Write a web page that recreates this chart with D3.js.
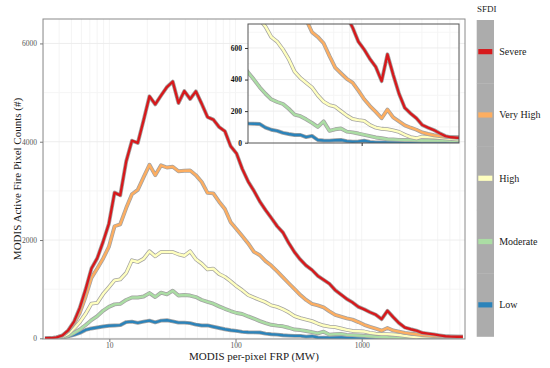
<!DOCTYPE html>
<html>
<head>
<meta charset="utf-8">
<script src="https://cdn.jsdelivr.net/npm/d3@7"></script>
<style>
  body { margin: 0; background: #fff; }
  svg { display: block; font-family: "Liberation Serif", "Times New Roman", serif; }
</style>
</head>
<body>
<div id="chart"></div>
<script>
// FRP bin centres (MW) and pixel counts per fire danger class
const frpBins = [3.09,3.44,3.82,4.25,4.72,5.25,5.83,6.49,7.21,8.02,8.91,9.91,11.0,12.2,13.6,15.1,16.8,18.7,20.8,23.1,25.7,28.6,31.8,35.3,39.3,43.7,48.5,54.0,60.0,66.7,74.1,82.4,91.6,102,113,126,140,156,173,192,214,238,264,294,327,363,404,449,499,555,617,685,762,847,942,1047,1164,1294,1439,1600,1778,1977,2198,2443,2716,3020,3357,3733,4150,4613,5129,5702,6339];

const severe = [0,5,20,60,160,340,620,1000,1420,1630,1960,2330,2965,2910,3600,4020,3975,4440,4924,4761,4940,5113,5223,4787,5031,4869,5025,4770,4502,4450,4299,4212,3906,3758,3450,3190,3000,2780,2610,2450,2280,2150,1940,1750,1600,1480,1390,1270,1190,1110,980,890,800,730,640,590,530,480,390,560,430,310,220,185,155,112,95,80,60,42,34,31,33];
const veryHigh = [0,5,18,55,150,300,520,850,1230,1420,1620,1860,2280,2320,2650,2930,3020,3280,3530,3320,3520,3475,3490,3400,3410,3415,3320,3180,2960,2950,2780,2630,2360,2220,2080,1930,1760,1690,1570,1480,1360,1240,1120,1000,880,780,700,670,630,550,475,440,405,380,330,275,232,195,155,210,160,135,110,95,82,65,55,47,42,38,36,35,34];
const high = [0,3,12,35,90,200,330,500,706,720,900,1040,1180,1200,1330,1587,1553,1620,1770,1669,1756,1755,1756,1710,1680,1770,1610,1520,1404,1415,1310,1250,1160,1060,980,880,830,780,735,670,640,590,530,450,410,380,350,300,260,238,228,200,172,150,143,138,112,95,88,85,78,68,50,35,28,38,36,34,31,28,25,22,20];
const moderate = [0,2,8,20,50,110,180,270,370,450,560,640,690,700,780,830,830,850,920,840,930,895,970,870,880,870,840,780,740,705,650,600,555,515,495,445,400,350,310,275,258,245,215,178,168,148,125,100,135,75,85,90,70,65,58,50,42,33,28,22,20,18,17,16,15,14,14,13,13,13,12,12,12];
const low = [0,2,5,15,40,70,110,170,200,220,240,255,262,268,330,340,315,340,360,325,360,368,345,320,320,310,280,260,262,235,210,185,165,150,130,122,120,118,95,82,75,62,55,49,49,35,43,17,14,13,15,17,10,6,8,12,5,2,2,2,1,1,1,1,0,0,0,0,0,0,0,0,0];

const levels = ["Severe", "Very High", "High", "Moderate", "Low"];
const levelColors = ["#d7191c", "#fdae61", "#ffffbf", "#abdda4", "#2b83ba"];
const levelValues = [severe, veryHigh, high, moderate, low];

const mainYTicks = [0, 2000, 4000, 6000];
const mainXTicks = [10, 100, 1000];
const insetYTicks = [0, 200, 400, 600];
const insetXTicks = [1000];

const width = 550;
const height = 368;

const svg = d3.select("#chart")
  .append("svg")
  .attr("width", width)
  .attr("height", height);

const panel = { left: 43, top: 19, right: 465, bottom: 339 };

const x = d3.scaleLog().domain([2.98, 6590]).range([panel.left, panel.right]);
const y = d3.scaleLinear().domain([-14, 6497]).range([panel.bottom, panel.top]);

// clip paths
const defs = svg.append("defs");
defs.append("clipPath").attr("id", "clipMain")
  .append("rect")
  .attr("x", panel.left).attr("y", panel.top)
  .attr("width", panel.right - panel.left).attr("height", panel.bottom - panel.top);

// grid
const grid = svg.append("g");
grid.selectAll(".vminor")
  .data(x.ticks().filter(d => d > x.domain()[0] && d < x.domain()[1]))
  .join("line")
  .attr("x1", d => x(d)).attr("x2", d => x(d))
  .attr("y1", panel.top).attr("y2", panel.bottom)
  .attr("stroke", "#f1f1f1").attr("stroke-width", 0.8);
grid.selectAll(".hgrid")
  .data(d3.range(0, 6500, 1000))
  .join("line")
  .attr("x1", panel.left).attr("x2", panel.right)
  .attr("y1", d => y(d)).attr("y2", d => y(d))
  .attr("stroke", d => d % 2000 === 0 ? "#ebebeb" : "#f4f4f4")
  .attr("stroke-width", 0.9);

function drawSeries(g, xs, ys, clipId) {
  const line = d3.line()
    .x((d, i) => xs(frpBins[i]))
    .y(d => ys(d));
  const layer = g.append("g").attr("clip-path", `url(#${clipId})`);
  // draw Low first so Severe ends up on top
  for (let k = levels.length - 1; k >= 0; k--) {
    layer.append("path")
      .datum(levelValues[k])
      .attr("fill", "none")
      .attr("stroke", "#a3a3a3")
      .attr("stroke-width", 3.9)
      .attr("stroke-linejoin", "round")
      .attr("d", line);
    layer.append("path")
      .datum(levelValues[k])
      .attr("fill", "none")
      .attr("stroke", levelColors[k])
      .attr("stroke-width", 2.4)
      .attr("stroke-linejoin", "round")
      .attr("d", line);
  }
}

drawSeries(svg, x, y, "clipMain");

// panel border
svg.append("rect")
  .attr("x", panel.left).attr("y", panel.top)
  .attr("width", panel.right - panel.left).attr("height", panel.bottom - panel.top)
  .attr("fill", "none").attr("stroke", "#8a8a8a").attr("stroke-width", 1);

// main axes
const yAxis = svg.append("g")
  .attr("transform", `translate(${panel.left},0)`)
  .call(d3.axisLeft(y).tickValues(mainYTicks).tickSize(3).tickPadding(3).tickFormat(d3.format("d")));
const xAxis = svg.append("g")
  .attr("transform", `translate(0,${panel.bottom})`)
  .call(d3.axisBottom(x).tickValues(mainXTicks).tickSize(3).tickPadding(1).tickFormat(d3.format("d")));
[yAxis, xAxis].forEach(a => {
  a.select(".domain").remove();
  a.selectAll(".tick line").attr("stroke", "#7a7a7a");
  a.selectAll(".tick text")
    .attr("fill", "#555")
    .style("font-family", "'Liberation Serif', serif")
    .style("font-size", "7.5px");
});

// axis titles
svg.append("text")
  .attr("x", (panel.left + panel.right) / 2)
  .attr("y", 360)
  .attr("text-anchor", "middle")
  .attr("fill", "#1a1a1a")
  .style("font-size", "11px")
  .text("MODIS per-pixel FRP (MW)");
svg.append("text")
  .attr("transform", `translate(17,${(panel.top + panel.bottom) / 2}) rotate(-90)`)
  .attr("text-anchor", "middle")
  .attr("dy", "0.35em")
  .attr("fill", "#1a1a1a")
  .style("font-size", "11px")
  .text("MODIS Active Fire Pixel Counts (#)");

// inset zoomed on the tail
const inset = { left: 248, top: 24, right: 459, bottom: 143 };
const xi = d3.scaleLog().domain([x.invert(inset.left), x.invert(inset.right)]).range([inset.left, inset.right]);
const yi = d3.scaleLinear().domain([-2, 752]).range([inset.bottom, inset.top]);

defs.append("clipPath").attr("id", "clipInset")
  .append("rect")
  .attr("x", inset.left).attr("y", inset.top)
  .attr("width", inset.right - inset.left).attr("height", inset.bottom - inset.top);

const ig = svg.append("g");
ig.append("rect")
  .attr("x", inset.left).attr("y", inset.top)
  .attr("width", inset.right - inset.left).attr("height", inset.bottom - inset.top)
  .attr("fill", "#fff");
ig.selectAll(".ivgrid")
  .data(xi.ticks().filter(d => d > xi.domain()[0] && d < xi.domain()[1]))
  .join("line")
  .attr("x1", d => xi(d)).attr("x2", d => xi(d))
  .attr("y1", inset.top).attr("y2", inset.bottom)
  .attr("stroke", "#f1f1f1").attr("stroke-width", 0.8);
ig.selectAll(".ihgrid")
  .data(d3.range(100, 800, 100))
  .join("line")
  .attr("x1", inset.left).attr("x2", inset.right)
  .attr("y1", d => yi(d)).attr("y2", d => yi(d))
  .attr("stroke", d => d % 200 === 0 ? "#ebebeb" : "#f4f4f4")
  .attr("stroke-width", 0.9);

drawSeries(ig, xi, yi, "clipInset");

ig.append("rect")
  .attr("x", inset.left).attr("y", inset.top)
  .attr("width", inset.right - inset.left).attr("height", inset.bottom - inset.top)
  .attr("fill", "none").attr("stroke", "#555").attr("stroke-width", 1);

const iyAxis = ig.append("g")
  .attr("transform", `translate(${inset.left},0)`)
  .call(d3.axisLeft(yi).tickValues(insetYTicks).tickSize(3).tickPadding(3));
const ixAxis = ig.append("g")
  .attr("transform", `translate(0,${inset.bottom})`)
  .call(d3.axisBottom(xi).tickValues(insetXTicks).tickSize(3).tickFormat(""));
[iyAxis, ixAxis].forEach(a => {
  a.select(".domain").remove();
  a.selectAll(".tick line").attr("stroke", "#333");
  a.selectAll(".tick text")
    .attr("fill", "#111")
    .style("font-family", "'Liberation Serif', serif")
    .style("font-weight", "bold")
    .style("font-size", "7.5px");
});

// legend
const legend = svg.append("g");
legend.append("text")
  .attr("x", 477).attr("y", 12)
  .attr("fill", "#222")
  .style("font-size", "9px")
  .text("SFDI");
const keyH = 63.3;
const keys = legend.selectAll(".key")
  .data(levels)
  .join("g")
  .attr("transform", (d, i) => `translate(476.7,${20 + i * keyH})`);
keys.append("rect")
  .attr("width", 17.3).attr("height", keyH + 0.3)
  .attr("fill", "#acacac");
keys.append("rect")
  .attr("x", 1.6).attr("y", keyH / 2 - 2.6)
  .attr("width", 14).attr("height", 5.2)
  .attr("fill", (d, i) => levelColors[i]);
keys.append("text")
  .attr("x", 22.5).attr("y", keyH / 2)
  .attr("dy", "0.35em")
  .attr("fill", "#1a1a1a")
  .style("font-size", "10px")
  .text(d => d);
</script>
</body>
</html>
